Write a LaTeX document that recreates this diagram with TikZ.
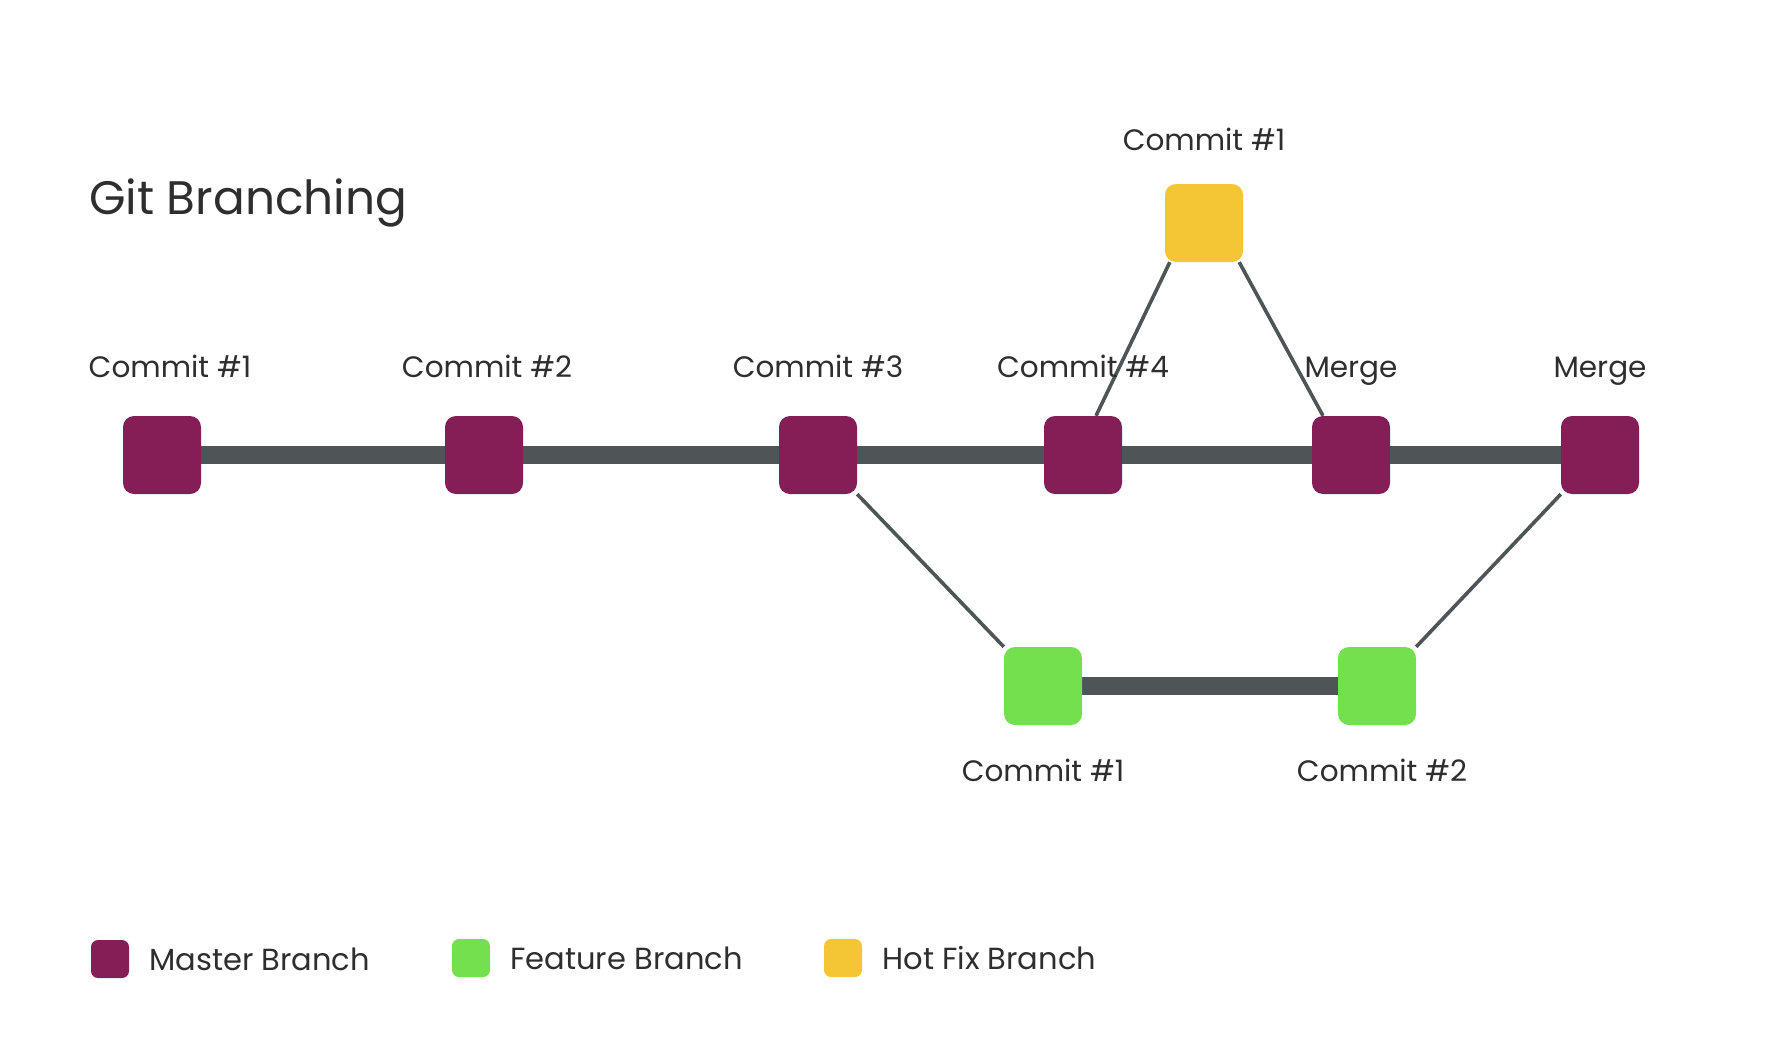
\documentclass[tikz,border=0pt]{standalone}
\usepackage{fontspec}
\setmainfont{Poppins}
\usetikzlibrary{positioning,backgrounds}
\definecolor{masterc}{HTML}{851E57}
\definecolor{featurec}{HTML}{74E04E}
\definecolor{hotfixc}{HTML}{F4C535}
\definecolor{linec}{HTML}{4F5556}
\definecolor{textc}{HTML}{2E2E2E}
\tikzset{
  commit/.style={rectangle,rounded corners=11pt,minimum size=78pt,inner sep=0pt},
  master/.style={commit,fill=masterc},
  feature/.style={commit,fill=featurec},
  hotfix/.style={commit,fill=hotfixc},
  trunk/.style={line width=18.5pt,draw=linec},
  twig/.style={line width=3.6pt,draw=linec},
  lbl/.style={inner sep=0pt,text=textc,text depth=0pt,
    font=\fontsize{29.5}{36}\selectfont},
  legendbox/.style={rectangle,rounded corners=7pt,minimum size=38pt,inner sep=0pt},
  legendtext/.style={lbl,font=\fontsize{30.5}{36}\selectfont}
}

\begin{document}
\begin{tikzpicture}[x=1pt,y=-1pt]

	% page and title
	\useasboundingbox (0,0) rectangle (1780,1060);
	\node[anchor=base west,inner sep=0pt,text=textc,font=\fontsize{47}{56}\selectfont]
	    (title) at (89,214) {Git Branching};

	% master branch
	\node[master] (m1) at (162,455) {};
	\node[master] (m2) at (484,455) {};
	\node[master] (m3) at (818,455) {};
	\node[master] (m4) at (1083,455) {};
	\node[master] (m5) at (1351,455) {};
	\node[master] (m6) at (1600,455) {};

	% feature and hot fix branches
	\node[feature] (f1) at (1043,686) {};
	\node[feature] (f2) at (1377,686) {};
	\node[hotfix] (h1) at (1204,223) {};

	\node[lbl,above=38pt of m1,xshift=8pt] (m1lbl) {Commit \#1};
	\node[lbl,above=38pt of m2,xshift=3pt] (m2lbl) {Commit \#2};
	\node[lbl,above=38pt of m3] (m3lbl) {Commit \#3};
	\node[lbl,above=38pt of m4] (m4lbl) {Commit \#4};
	\node[lbl,above=38pt of m5] (m5lbl) {Merge};
	\node[lbl,above=38pt of m6] (m6lbl) {Merge};
	\node[lbl,above=33pt of h1] (h1lbl) {Commit \#1};
	\node[lbl,below=34pt of f1] (f1lbl) {Commit \#1};
	\node[lbl,below=34pt of f2,xshift=5pt] (f2lbl) {Commit \#2};

	\begin{pgfonlayer}{background}
	    \fill[white] (0,0) rectangle (1780,1060);
	    \draw[trunk] (m1.center) -- (m6.center);
	    \draw[trunk] (f1.center) -- (f2.center);
	    \draw[twig] (m3.south east) -- (f1.north west);
	    \draw[twig] (f2.north east) -- (m6.south west);
	    \draw[twig] ([xshift=13pt]m4.north) -- ([xshift=5pt]h1.south west);
	    \draw[twig] ([xshift=-4pt]h1.south east) -- ([xshift=-28pt]m5.north);
	\end{pgfonlayer}

	% legend
	\node[legendbox,fill=masterc] (lgm) at (110,959) {};
	\node[legendbox,fill=featurec] (lgf) at (471,958) {};
	\node[legendbox,fill=hotfixc] (lgh) at (843,958) {};
	\node[legendtext,right=20pt of lgm] (lgmtext) {Master Branch};
	\node[legendtext,right=20pt of lgf] (lgftext) {Feature Branch};
	\node[legendtext,right=20pt of lgh] (lghtext) {Hot Fix Branch};

\end{tikzpicture}
\end{document}
